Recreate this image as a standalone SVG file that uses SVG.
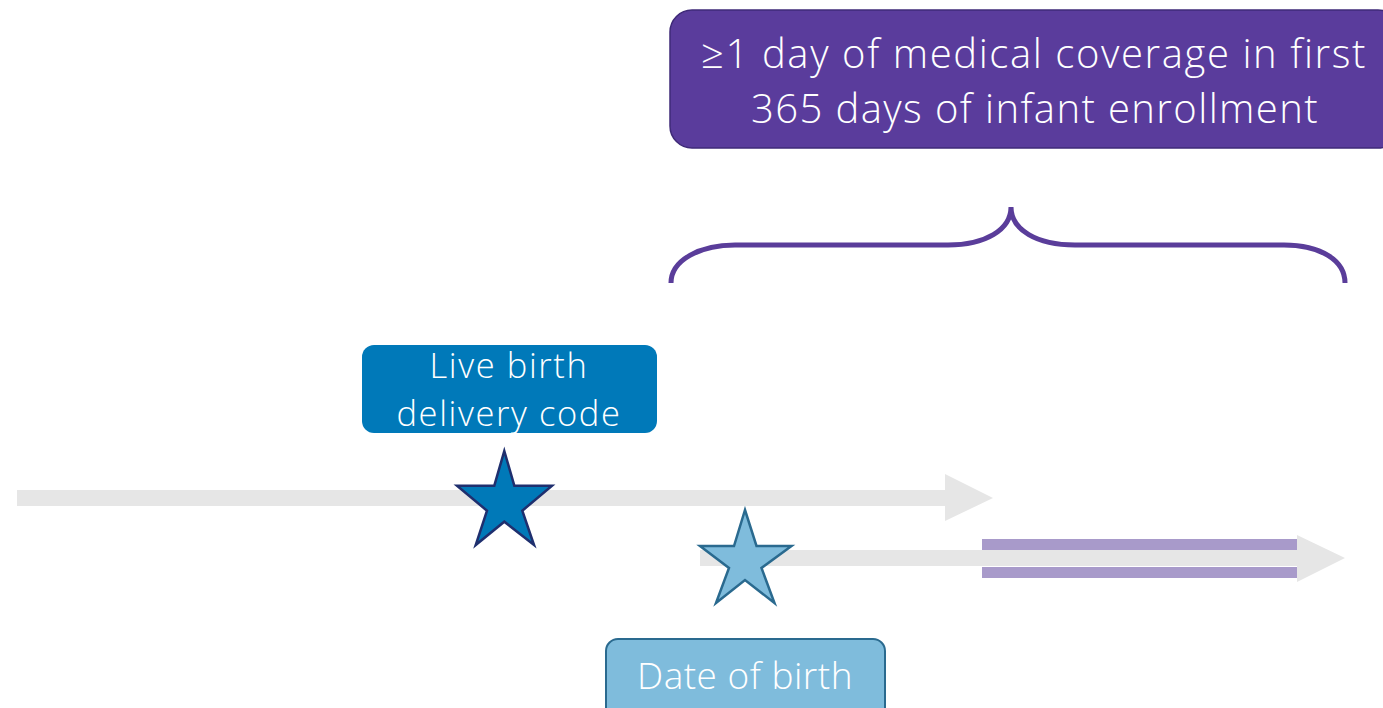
<svg xmlns="http://www.w3.org/2000/svg" width="1383" height="708" viewBox="0 0 1383 708">
<style>
.t{font-family:"Open Sans",Lato,"Liberation Sans",sans-serif;font-weight:300;fill:#ffffff;text-anchor:middle}
.shaft{fill:#e6e6e6}
</style>
<rect width="1383" height="708" fill="#ffffff"/>
<g id="connectors">
<polygon class="shaft" points="17,490 945,490 945,474 993,498 945,521 945,506 17,506"/>
<polygon class="shaft" points="700,550 1297,550 1297,535 1345,558 1297,582 1297,566 700,566"/>
<rect x="982" y="539" width="315" height="11" fill="#a89aca"/>
<rect x="982" y="567" width="315" height="11" fill="#a89aca"/>
<path d="M671,283 C671,260 700,245 735,245 L948,245 C985,245 1011,230 1011,207 C1011,230 1037,245 1075,245 L1284,245 C1320,245 1345,260 1345,283" fill="none" stroke="#5a3d9a" stroke-width="5"/>
</g>
<g id="coverage">
<rect x="670" y="10" width="730" height="138" rx="22" fill="#5a3c9c" stroke="#3f2a78" stroke-width="1.5"/>
<text class="t" font-size="40"><tspan x="1034" y="68" letter-spacing="1.6">≥1 day of medical coverage in first</tspan><tspan x="1035" y="123" letter-spacing="1.4">365 days of infant enrollment</tspan></text>
</g>
<g id="live-birth">
<rect x="362" y="345" width="295" height="88" rx="12" fill="#0079b9"/>
<text class="t" font-size="34.5" letter-spacing="1.6"><tspan x="509" y="378">Live birth</tspan><tspan x="509" y="426">delivery code</tspan></text>
</g>
<g id="star-delivery">
<polygon points="504.3,451 514.3,485.7 552,485.7 522.3,510.7 534,545 504.3,521.7 475.7,545 487,510.7 457,485.7 494.3,485.7" fill="#0079b8" stroke="#1f2f6e" stroke-width="2.5" stroke-linejoin="miter"/>
</g>
<g id="star-birth">
<polygon points="745,510 756.5,546 791.5,546 761.5,568 774.5,603 745,580 716,603 729,568 700,546 734,546" fill="#7fbcdc" stroke="#2a6a8f" stroke-width="2.5"/>
</g>
<g id="date-of-birth">
<rect x="606" y="639" width="279" height="90" rx="12" fill="#7fbcdc" stroke="#2a6a8f" stroke-width="2"/>
<text class="t" x="745" y="689" font-size="37" letter-spacing="0.5">Date of birth</text>
</g>
</svg>
